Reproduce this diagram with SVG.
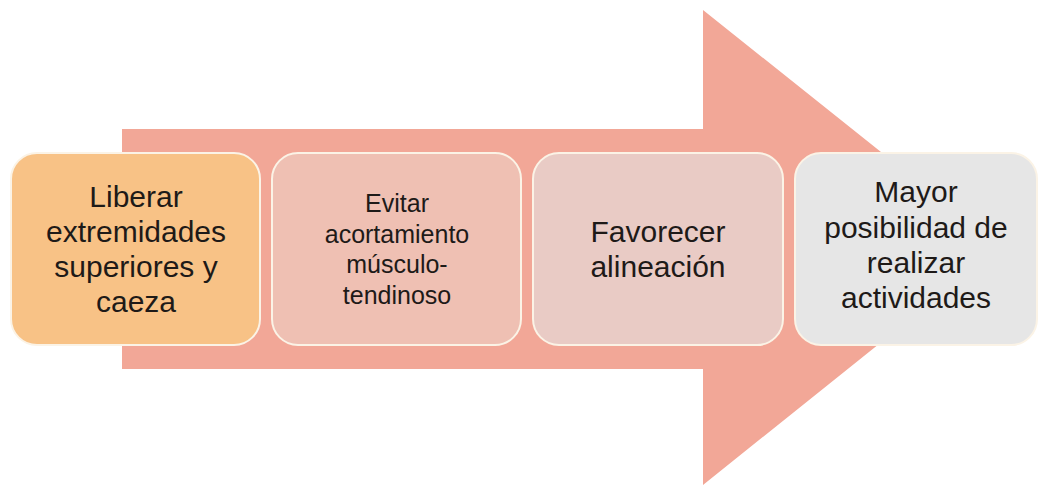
<svg xmlns="http://www.w3.org/2000/svg" width="1039" height="487" viewBox="0 0 1039 487">
<style>
.box{stroke:#fbf3e6;stroke-width:2}
.t{font-family:"Liberation Sans",Arial,sans-serif;fill:#1e1a18;text-anchor:middle}
.big{font-size:30px}
.small{font-size:25px}
</style>
<rect width="1039" height="487" fill="#ffffff"/>
<g id="arrow">
<polygon points="122,129 703,129 703,10 1000,247 703,485 703,369 122,369" fill="#f2a797"/>
</g>
<g id="connectors"></g>
<g id="node1">
<rect class="box" x="11" y="153" width="249" height="192" rx="26" fill="#f8c286"/>
<text class="t big"><tspan x="136" y="207">Liberar</tspan><tspan x="136" y="242">extremidades</tspan><tspan x="136" y="277">superiores y</tspan><tspan x="136" y="312">caeza</tspan></text>
</g>
<g id="node2">
<rect class="box" x="272" y="153" width="249" height="192" rx="26" fill="#efc0b3"/>
<text class="t small"><tspan x="397" y="212">Evitar</tspan><tspan x="397" y="243">acortamiento</tspan><tspan x="397" y="273">músculo-</tspan><tspan x="397" y="304">tendinoso</tspan></text>
</g>
<g id="node3">
<rect class="box" x="533" y="153" width="250" height="192" rx="26" fill="#e9cbc5"/>
<text class="t big"><tspan x="658" y="242">Favorecer</tspan><tspan x="658" y="277">alineación</tspan></text>
</g>
<g id="node4">
<rect class="box" x="795" y="153" width="242" height="192" rx="26" fill="#e6e6e6"/>
<text class="t big"><tspan x="916" y="202">Mayor</tspan><tspan x="916" y="238">posibilidad de</tspan><tspan x="916" y="273">realizar</tspan><tspan x="916" y="308">actividades</tspan></text>
</g>
</svg>
